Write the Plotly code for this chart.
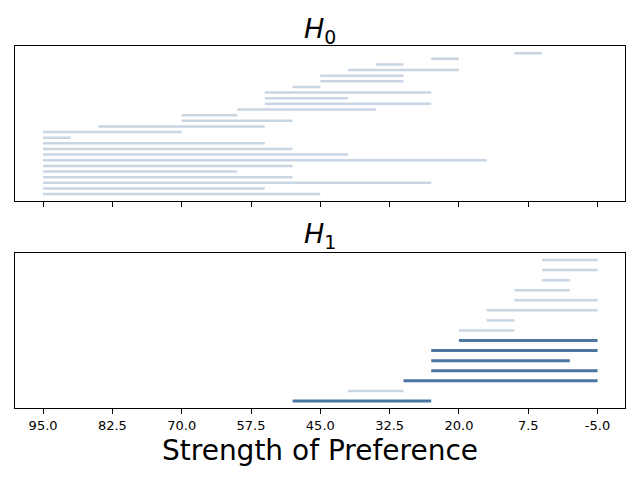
import plotly.graph_objects as go

# H0 intervals, bottom to top (start is the higher value, axis runs 95 -> -5)
h0_start = [95, 95, 95, 95, 95, 95, 95, 95, 95, 95, 95, 95, 85, 70, 70,
            60, 55, 55, 55, 50, 45, 45, 40, 35, 25, 10]
h0_end = [45, 55, 25, 50, 60, 50, 15, 40, 50, 55, 90, 70, 55, 50, 60,
          35, 25, 40, 25, 45, 30, 30, 20, 30, 20, 5]

# H1 intervals, bottom to top; sig marks the dark ones
h1_start = [50, 40, 30, 25, 25, 25, 20, 20, 15, 15, 10, 10, 5, 5, 5]
h1_end = [25, 30, -5, -5, 0, -5, -5, 10, 10, -5, -5, 0, 0, -5, -5]
h1_sig = [True, False, True, True, True, True, True, False, False, False,
          False, False, False, False, False]

tick_vals = [95.0, 82.5, 70.0, 57.5, 45.0, 32.5, 20.0, 7.5, -5.0]
tick_text = ["95.0", "82.5", "70.0", "57.5", "45.0", "32.5", "20.0", "7.5", "-5.0"]

light = "#c8d5e2"
dark = "#4a76a0"


def segs(starts, ends, idx):
    xs, ys = [], []
    for i in idx:
        xs += [starts[i], ends[i], None]
        ys += [i, i, None]
    return xs, ys


fig = go.Figure()

x, y = segs(h0_start, h0_end, range(len(h0_start)))
fig.add_trace(go.Scatter(x=x, y=y, mode="lines", line=dict(color=light, width=2.5),
                         xaxis="x", yaxis="y", showlegend=False, hoverinfo="skip"))

idx_light = [i for i in range(len(h1_start)) if not h1_sig[i]]
idx_dark = [i for i in range(len(h1_start)) if h1_sig[i]]
x, y = segs(h1_start, h1_end, idx_light)
fig.add_trace(go.Scatter(x=x, y=y, mode="lines", line=dict(color=light, width=2.5),
                         xaxis="x2", yaxis="y2", showlegend=False, hoverinfo="skip"))
x, y = segs(h1_start, h1_end, idx_dark)
fig.add_trace(go.Scatter(x=x, y=y, mode="lines", line=dict(color=dark, width=3),
                         xaxis="x2", yaxis="y2", showlegend=False, hoverinfo="skip"))

ax_common = dict(range=[100, -10], tickmode="array", tickvals=tick_vals, ticktext=tick_text,
                 ticks="outside", ticklen=5, tickwidth=1, tickcolor="black",
                 showline=True, linecolor="black", linewidth=1, mirror=True,
                 showgrid=False, zeroline=False, domain=[0.024, 0.977],
                 tickfont=dict(family="DejaVu Sans", size=13, color="black"))
ay_common = dict(showticklabels=False, ticks="", showline=True, linecolor="black",
                 linewidth=1, mirror=True, showgrid=False, zeroline=False)

n0 = len(h0_start) - 1
n1 = len(h1_start) - 1
fig.update_layout(
    width=640, height=480,
    margin=dict(l=0, r=0, t=0, b=0),
    paper_bgcolor="white", plot_bgcolor="white",
    xaxis=dict(ax_common, anchor="y", showticklabels=False),
    yaxis=dict(ay_common, anchor="x", domain=[0.581, 0.904],
               range=[-0.05 * n0, n0 * 1.05]),
    xaxis2=dict(ax_common, anchor="y2"),
    yaxis2=dict(ay_common, anchor="x2", domain=[0.15, 0.473],
                range=[-0.05 * n1, n1 * 1.05]),
    font=dict(family="DejaVu Sans", color="black"),
    annotations=[
        dict(text="<i>H</i><sub>0</sub>", x=0.5, y=0.937, xref="paper", yref="paper",
             xanchor="center", yanchor="middle", showarrow=False,
             font=dict(size=27, family="DejaVu Sans")),
        dict(text="<i>H</i><sub>1</sub>", x=0.5, y=0.51, xref="paper", yref="paper",
             xanchor="center", yanchor="middle", showarrow=False,
             font=dict(size=27, family="DejaVu Sans")),
        dict(text="Strength of Preference", x=0.5, y=0.062, xref="paper", yref="paper",
             xanchor="center", yanchor="middle", showarrow=False,
             font=dict(size=28, family="DejaVu Sans")),
    ],
)

fig.write_html("out.html", config={"displayModeBar": False},
               post_script="document.body.style.margin='0';")
